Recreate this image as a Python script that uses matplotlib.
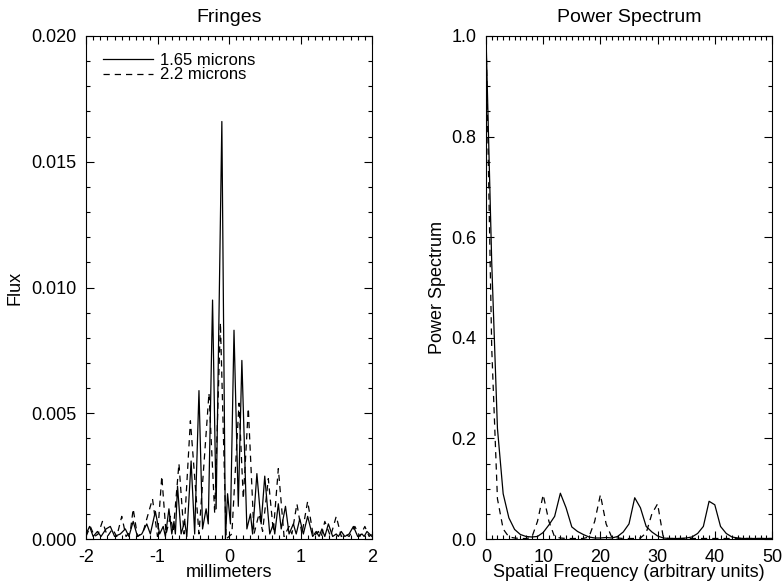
import numpy as np
import matplotlib
matplotlib.use('Agg')
import matplotlib.pyplot as plt
from matplotlib.ticker import MultipleLocator, FormatStrFormatter

plt.rcParams.update({'font.family': 'Liberation Sans', 'font.size': 13,
                     'axes.unicode_minus': False})

# ---- fringes (peaks and troughs) ----
mm_165 = [-2.00, -1.95, -1.90, -1.84, -1.79, -1.72, -1.66, -1.60, -1.52, -1.45,
          -1.40, -1.34, -1.28, -1.22, -1.15, -1.10, -1.03, -0.97, -0.92, -0.89,
          -0.84, -0.80, -0.77, -0.75, -0.72, -0.67, -0.62, -0.59, -0.53, -0.48,
          -0.42, -0.37, -0.32, -0.29, -0.23, -0.18, -0.10, -0.05, -0.02, 0.02,
          0.07, 0.13, 0.18, 0.25, 0.30, 0.33, 0.39, 0.45, 0.50, 0.57,
          0.62, 0.64, 0.69, 0.73, 0.79, 0.84, 0.90, 0.94, 0.99, 1.04,
          1.10, 1.17, 1.22, 1.26, 1.30, 1.34, 1.39, 1.45, 1.50, 1.53,
          1.57, 1.62, 1.68, 1.74, 1.80, 1.86, 1.89, 1.93, 2.00]
flux_165 = [0.0002, 0.0005, 0.0001, 0.0003, 0.0001, 0.0004, 0.0005, 0.0001, 0.0002, 0.0004,
            0.0001, 0.0007, 0.0001, 0.0002, 0.0006, 0.0002, 0.0011, 0.0002, 0.0005, 0.0001,
            0.0012, 0.0002, 0.0007, 0.0002, 0.0021, 0.0002, 0.0007, 0.0001, 0.0031, 0.0002,
            0.0059, 0.0004, 0.0012, 0.0006, 0.0095, 0.0012, 0.0166, 0.0000, 0.0018, 0.0006,
            0.0083, 0.0013, 0.0071, 0.0004, 0.0010, 0.0002, 0.0026, 0.0006, 0.0025, 0.0002,
            0.0006, 0.0002, 0.0014, 0.0004, 0.0013, 0.0002, 0.0006, 0.0002, 0.0008, 0.0002,
            0.0009, 0.0001, 0.0003, 0.0001, 0.0004, 0.0001, 0.0006, 0.0001, 0.0002, 0.0001,
            0.0003, 0.0001, 0.0002, 0.0005, 0.0001, 0.0002, 0.0001, 0.0003, 0.0001]

mm_22 = [-2.00, -1.94, -1.88, -1.83, -1.77, -1.70, -1.63, -1.57, -1.50, -1.44,
         -1.38, -1.34, -1.28, -1.20, -1.12, -1.07, -1.00, -0.94, -0.88, -0.82,
         -0.78, -0.70, -0.63, -0.54, -0.42, -0.28, -0.20, -0.12, -0.04, 0.04,
         0.14, 0.20, 0.27, 0.35, 0.42, 0.47, 0.55, 0.62, 0.69, 0.77,
         0.84, 0.88, 0.95, 1.02, 1.10, 1.18, 1.25, 1.29, 1.34, 1.42,
         1.50, 1.57, 1.62, 1.68, 1.76, 1.83, 1.90, 1.96, 2.00]
flux_22 = [0.0001, 0.0005, 0.0001, 0.0002, 0.0007, 0.0001, 0.0004, 0.0001, 0.0009, 0.0001,
           0.0003, 0.0012, 0.0001, 0.0003, 0.0011, 0.0016, 0.0001, 0.0025, 0.0002, 0.0009,
           0.0003, 0.0030, 0.0002, 0.0047, 0.0002, 0.0058, 0.0010, 0.0086, 0.0000, 0.0002,
           0.0054, 0.0016, 0.0052, 0.0002, 0.0010, 0.0003, 0.0024, 0.0003, 0.0028, 0.0001,
           0.0005, 0.0002, 0.0014, 0.0002, 0.0015, 0.0001, 0.0003, 0.0001, 0.0007, 0.0001,
           0.0009, 0.0001, 0.0002, 0.0001, 0.0005, 0.0001, 0.0005, 0.0001, 0.0002]

# ---- power spectra ----
freq = np.arange(0, 51)
ps_165 = [1.0, 0.55, 0.22, 0.09, 0.042, 0.019, 0.009, 0.005, 0.004, 0.005,
          0.013, 0.028, 0.045, 0.091, 0.062, 0.024, 0.015, 0.009, 0.004, 0.002,
          0.002, 0.003, 0.002, 0.005, 0.014, 0.030, 0.082, 0.062, 0.025, 0.014,
          0.006, 0.002, 0.001, 0.001, 0.001, 0.002, 0.004, 0.011, 0.025, 0.075,
          0.068, 0.025, 0.011, 0.004, 0.002, 0.001, 0.001, 0.001, 0.001, 0.001,
          0.001]
ps_22 = [1.0, 0.38, 0.08, 0.02, 0.004, 0.002, 0.001, 0.001, 0.003, 0.035,
         0.088, 0.035, 0.004, 0.002, 0.001, 0.001, 0.001, 0.001, 0.004, 0.035,
         0.088, 0.030, 0.003, 0.002, 0.001, 0.001, 0.001, 0.002, 0.012, 0.050,
         0.070, 0.003, 0.001, 0.001, 0.001, 0.001, 0.001, 0.001, 0.001, 0.001,
         0.001, 0.001, 0.001, 0.001, 0.001, 0.001, 0.001, 0.001, 0.001, 0.001,
         0.001]

fig = plt.figure(figsize=(7.82, 5.86), dpi=100)
ax1 = fig.add_axes([86/782, 47/586, 286/782, 503/586])
ax2 = fig.add_axes([486/782, 47/586, 286/782, 503/586])

dash = (0, (5, 4))

ax1.plot(mm_165, flux_165, c='k', lw=0.9, label='1.65 microns')
ax1.plot(mm_22, flux_22, c='k', lw=0.9, linestyle=dash, label='2.2 microns')
ax1.set_xlim(-2, 2)
ax1.set_ylim(0, 0.020)
ax1.xaxis.set_major_locator(MultipleLocator(1))
ax1.xaxis.set_minor_locator(MultipleLocator(0.1))
ax1.yaxis.set_major_locator(MultipleLocator(0.005))
ax1.yaxis.set_minor_locator(MultipleLocator(0.001))
ax1.yaxis.set_major_formatter(FormatStrFormatter('%.3f'))
ax1.set_title('Fringes', fontsize=14, pad=10)
ax1.set_xlabel('millimeters', labelpad=-1)
ax1.set_ylabel('Flux', labelpad=5)
ax1.legend(loc='upper left', bbox_to_anchor=(0.02, 0.99), frameon=False,
           fontsize=12, handlelength=3.0, handletextpad=0.4, labelspacing=-0.02,
           borderaxespad=0.3)

ax2.plot(freq, ps_165, c='k', lw=0.9)
ax2.plot(freq, ps_22, c='k', lw=0.9, linestyle=dash)
ax2.set_xlim(0, 50)
ax2.set_ylim(0, 1.0)
ax2.xaxis.set_major_locator(MultipleLocator(10))
ax2.xaxis.set_minor_locator(MultipleLocator(1))
ax2.yaxis.set_major_locator(MultipleLocator(0.2))
ax2.yaxis.set_minor_locator(MultipleLocator(0.05))
ax2.yaxis.set_major_formatter(FormatStrFormatter('%.1f'))
ax2.set_title('Power Spectrum', fontsize=14, pad=10)
ax2.set_xlabel('Spatial Frequency (arbitrary units)', labelpad=-1)
ax2.set_ylabel('Power Spectrum', labelpad=4)

for ax in (ax1, ax2):
    ax.tick_params(which='both', direction='in', top=True, right=True, width=0.8)
    ax.tick_params(which='major', length=6, pad=7)
    ax.tick_params(which='minor', length=3)
    for s in ax.spines.values():
        s.set_linewidth(0.8)

fig.savefig('out.png', dpi=100)
